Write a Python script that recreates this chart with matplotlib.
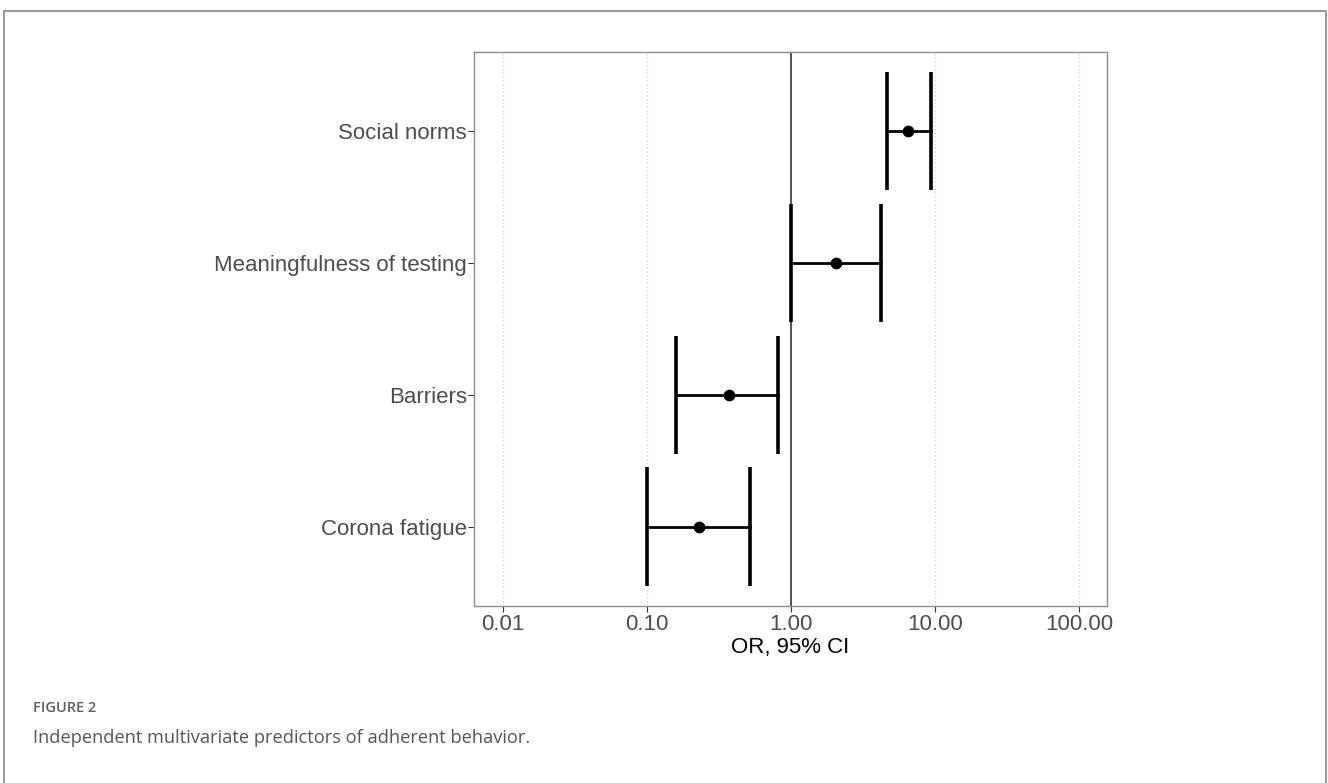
import matplotlib
matplotlib.use("Agg")
import matplotlib.pyplot as plt
from matplotlib.patches import Rectangle

# Forest plot data (odds ratios with 95% CI)
predictors = ['Corona fatigue', 'Barriers', 'Meaningfulness of testing', 'Social norms']
odds_ratio = [0.23, 0.37, 2.05, 6.55]
ci_low = [0.10, 0.16, 1.00, 4.65]
ci_high = [0.52, 0.82, 4.20, 9.35]

tick_vals = [0.01, 0.1, 1, 10, 100]
tick_labels = ['0.01', '0.10', '1.00', '10.00', '100.00']

plt.rcParams['font.family'] = ['Liberation Sans', 'DejaVu Sans']

W, H = 1328, 783
fig = plt.figure(figsize=(W / 100, H / 100), dpi=100)

# page frame around the figure
fig.patches.append(Rectangle((4 / W, -0.05), 1322 / W, 1.05 - 11 / H,
                             transform=fig.transFigure, fill=False,
                             edgecolor='#9a9a9a', linewidth=1.5))

ax = fig.add_axes([474 / W, 1 - 606 / H, (1107 - 474) / W, (606 - 52) / H])
ax.set_xscale('log')
ax.set_xlim(10 ** -2.2, 10 ** 2.195)
ax.set_ylim(0.4, 4.6)

ypos = list(range(1, len(predictors) + 1))

# dotted vertical grid
for v in tick_vals:
    if v != 1:
        ax.axvline(v, color='#d0d0d0', linestyle=(0, (1, 2)), linewidth=0.9, zorder=0)
ax.axvline(1, color='#333333', linewidth=1.2, zorder=1)

for y, lo, hi, orv in zip(ypos, ci_low, ci_high, odds_ratio):
    ax.plot([lo, hi], [y, y], color='black', linewidth=2.0, zorder=2)
    ax.plot([lo, lo], [y - 0.45, y + 0.45], color='black', linewidth=2.6,
            solid_capstyle='butt', zorder=2)
    ax.plot([hi, hi], [y - 0.45, y + 0.45], color='black', linewidth=2.6,
            solid_capstyle='butt', zorder=2)
ax.scatter(odds_ratio, ypos, s=55, color='black', zorder=3)

ax.set_xticks(tick_vals)
ax.set_xticklabels(tick_labels)
ax.minorticks_off()
ax.set_yticks(ypos)
ax.set_yticklabels(predictors)
ax.tick_params(axis='both', colors='#333333', labelcolor='#4d4d4d',
               labelsize=16, length=4, width=0.8, pad=2)
ax.tick_params(axis='y', pad=1.2)
ax.set_xlabel('OR, 95% CI', fontsize=16, color='black', labelpad=1)

for s in ax.spines.values():
    s.set_color('#8c8c8c')
    s.set_linewidth(1.0)

# caption
fig.text(33 / W, 1 - 708 / H, 'FIGURE 2', fontsize=10.5, color='#5e5e5e',
         family=['Open Sans', 'DejaVu Sans'], weight='semibold', va='center')
fig.text(33 / W, 1 - 738 / H, 'Independent multivariate predictors of adherent behavior.',
         fontsize=13.15, color='#555555', family=['Open Sans', 'DejaVu Sans'], va='center')

fig.savefig('out.png', dpi=100)
